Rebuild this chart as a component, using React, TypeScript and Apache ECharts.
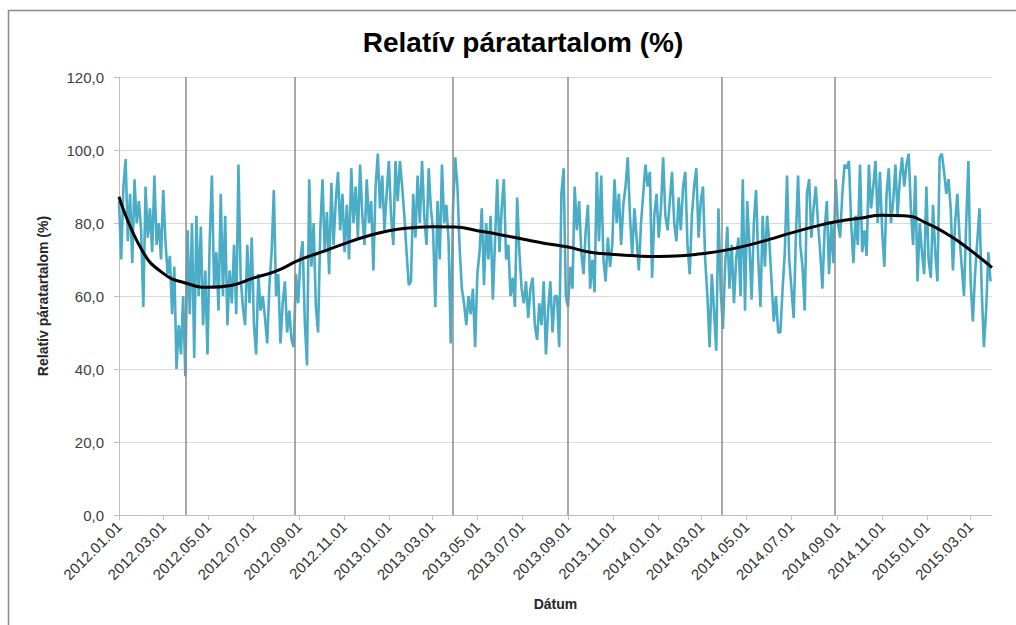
import React, { useEffect, useRef } from "react";
import * as echarts from "echarts";

// Axis: daily dates 2012.01.01 – 2015.03.30
const FIRST_DAY = { y: 2012, m: 0, d: 1 };
const DAY_COUNT = 1185;
// Daily relative humidity, read every 3rd day from the picture
const STEP_DAYS = 3;
const humidity = [
  86, 70, 90, 97.5, 75, 88, 69, 92, 80, 86, 78, 57, 90, 76, 84, 72, 93, 74, 80, 70, 89, 75, 66, 71, 55, 68, 40, 52, 44, 60, 38, 78, 55, 80, 43, 82, 60, 79, 52, 67, 44, 75, 93, 62, 72, 56, 88, 60, 82, 52, 67, 58, 74, 55, 96, 65, 57, 52, 74, 58, 76, 52, 44, 66, 56, 60,
  54, 47, 63, 72, 89, 60, 66, 47, 58, 64, 50, 56, 48, 46, 66, 58, 70, 75, 53, 41, 92, 68, 80, 57, 50, 78, 92, 72, 83, 66, 91, 74, 86, 94, 78, 88, 72, 85, 70, 95, 80, 90, 76, 96, 82, 74, 92, 80, 86, 67, 90, 99, 84, 93, 78, 88, 97, 82, 74, 97, 86, 97, 90, 82, 72, 63,
  64, 88, 76, 93, 80, 97, 82, 74, 95, 84, 78, 57, 86, 70, 96, 80, 85, 75, 47, 84, 98, 90, 73, 62, 58, 52, 60, 55, 62, 46, 66, 72, 84, 63, 80, 70, 82, 59, 75, 92, 72, 84, 92, 70, 74, 60, 65, 57, 87, 72, 62, 58, 64, 54, 62, 65, 52, 48, 58, 52, 64, 44, 56, 64, 50, 60,
  60, 46, 88, 95, 60, 57, 68, 62, 90, 78, 86, 72, 66, 78, 85, 62, 70, 61, 94, 75, 93, 70, 64, 76, 68, 74, 92, 80, 88, 74, 85, 90, 98, 82, 71, 84, 76, 67, 80, 88, 96, 90, 94, 65, 82, 88, 76, 84, 98, 82, 78, 86, 94, 80, 75, 87, 78, 90, 94, 74, 66, 82, 90, 95, 76, 86,
  90, 70, 60, 46, 66, 56, 45, 84, 62, 51, 68, 79, 62, 74, 58, 70, 76, 60, 92, 56, 86, 74, 59, 80, 89, 70, 57, 82, 68, 82, 75, 64, 53, 60, 50, 50, 62, 72, 93, 70, 62, 54, 76, 93, 74, 68, 56, 88, 92, 76, 84, 90, 80, 72, 62, 78, 86, 66, 80, 69, 92, 80, 76, 88, 96, 95,
  97, 80, 69, 82, 74, 96, 72, 78, 71, 96, 84, 90, 97, 80, 94, 78, 68, 88, 95, 80, 86, 96, 82, 92, 98, 90, 96, 99, 84, 74, 93, 64, 80, 72, 66, 90, 70, 65, 85, 72, 64, 98, 99, 94, 88, 92, 84, 67, 80, 88, 76, 68, 60, 80, 97, 64, 53, 66, 75, 84, 62, 46, 56, 72, 64,
];
// Polynomial trend line, read at month starts
const trendDates = [
  "2012.01.01", "2012.02.01", "2012.03.01", "2012.04.01", "2012.05.01", "2012.06.01", "2012.07.01", "2012.08.01", "2012.09.01", "2012.10.01", "2012.11.01", "2012.12.01",
  "2013.01.01", "2013.02.01", "2013.03.01", "2013.04.01", "2013.05.01", "2013.06.01", "2013.07.01", "2013.08.01", "2013.09.01", "2013.10.01", "2013.11.01", "2013.12.01",
  "2014.01.01", "2014.02.01", "2014.03.01", "2014.04.01", "2014.05.01", "2014.06.01", "2014.07.01", "2014.08.01", "2014.09.01", "2014.10.01", "2014.11.01", "2014.12.01",
  "2015.01.01", "2015.02.01", "2015.03.01", "2015.03.30",
];
const trendValues = [
  87.2, 72.6, 66.2, 63.5, 62.4, 62.9, 64.9, 66.8, 69.8, 72.0, 74.3, 76.3,
  77.9, 78.7, 79.0, 78.9, 77.9, 76.8, 75.6, 74.4, 73.4, 72.0, 71.4, 71.0,
  70.8, 71.0, 71.6, 72.5, 73.8, 75.5, 77.3, 79.0, 80.4, 81.3, 82.1, 82.0,
  79.9, 76.5, 72.5, 67.8,
];
// Vertical marker lines (season boundaries)
const boundaryDates = ["2012.04.01", "2012.08.26", "2013.03.28", "2013.09.01", "2014.03.29", "2014.08.29"];
const yTicks = { min: 0, max: 120, interval: 20 };

const FONT = "'Liberation Sans', Arial, sans-serif";

function pad(n: number) {
  return n < 10 ? "0" + n : String(n);
}
function buildDates(): string[] {
  const out: string[] = [];
  for (let i = 0; i < DAY_COUNT; i++) {
    const dt = new Date(Date.UTC(FIRST_DAY.y, FIRST_DAY.m, FIRST_DAY.d + i));
    out.push(`${dt.getUTCFullYear()}.${pad(dt.getUTCMonth() + 1)}.${pad(dt.getUTCDate())}`);
  }
  return out;
}
function isMajor(value: string) {
  const parts = value.split(".");
  return parts[2] === "01" && Number(parts[1]) % 2 === 1;
}

export default function App() {
  const ref = useRef<HTMLDivElement>(null);
  useEffect(() => {
    if (!ref.current) return;
    const chart = echarts.init(ref.current, undefined, { renderer: "svg" });
    const dates = buildDates();
    const rh = humidity.map((v, i) => [i * STEP_DAYS, v]);
    const trend = trendDates.map((d, i) => [dates.indexOf(d), trendValues[i]]);
    chart.setOption({
      animation: false,
      backgroundColor: "#ffffff",
      title: {
        text: "Relatív páratartalom (%)",
        left: 518,
        top: 23,
        textAlign: "center",
        textStyle: { fontFamily: FONT, fontSize: 28, fontWeight: "bold", color: "#000000" },
      },
      graphic: [
        {
          type: "rect",
          shape: { x: 8.5, y: 10.5, width: 1100, height: 700 },
          style: { fill: "none", stroke: "#8c8c8c", lineWidth: 1.5 },
          silent: true,
        },
      ],
      grid: { left: 119, top: 77, right: 24, bottom: 110, containLabel: false },
      xAxis: {
        type: "category",
        data: dates,
        boundaryGap: false,
        name: "Dátum",
        nameLocation: "middle",
        nameGap: 82,
        nameTextStyle: { fontFamily: FONT, fontSize: 14, fontWeight: "bold", color: "#262626" },
        axisLine: { lineStyle: { color: "#bfbfbf", width: 1 } },
        axisTick: {
          show: true,
          interval: (_i: number, v: string) => isMajor(v),
          length: 5,
          lineStyle: { color: "#bfbfbf" },
        },
        axisLabel: {
          interval: (_i: number, v: string) => isMajor(v),
          rotate: 45,
          margin: 9,
          fontFamily: FONT,
          fontSize: 15,
          color: "#333333",
        },
        splitLine: { show: false },
      },
      yAxis: {
        type: "value",
        min: yTicks.min,
        max: yTicks.max,
        interval: yTicks.interval,
        name: "Relatív páratartalom (%)",
        nameLocation: "middle",
        nameGap: 69,
        nameRotate: 90,
        nameTextStyle: { fontFamily: FONT, fontSize: 14, fontWeight: "bold", color: "#262626" },
        axisLine: { show: true, lineStyle: { color: "#bfbfbf" } },
        axisTick: { show: true, length: 5, lineStyle: { color: "#bfbfbf" } },
        axisLabel: {
          formatter: (v: number) => v.toFixed(1).replace(".", ","),
          fontFamily: FONT,
          fontSize: 15,
          color: "#404040",
          margin: 15,
        },
        splitLine: { lineStyle: { color: "#d9d9d9", width: 1 } },
      },
      series: [
        {
          name: "Relatív páratartalom",
          type: "line",
          data: rh,
          symbol: "none",
          color: "#4BACC6",
          lineStyle: { color: "#4BACC6", width: 2.6 },
          markLine: {
            silent: true,
            symbol: ["none", "none"],
            label: { show: false },
            lineStyle: { color: "#8c8c8c", width: 1.5, type: "solid" },
            data: boundaryDates.map((d) => ({ xAxis: d })),
          },
        },
        {
          name: "Trend",
          type: "line",
          data: trend,
          smooth: true,
          symbol: "none",
          color: "#000000",
          lineStyle: { color: "#000000", width: 3 },
          z: 5,
        },
      ],
    });
    return () => chart.dispose();
  }, []);
  return (
    <div
      ref={ref}
      style={{ position: "fixed", left: 0, top: 0, width: 1016, height: 625, background: "#ffffff" }}
    />
  );
}
